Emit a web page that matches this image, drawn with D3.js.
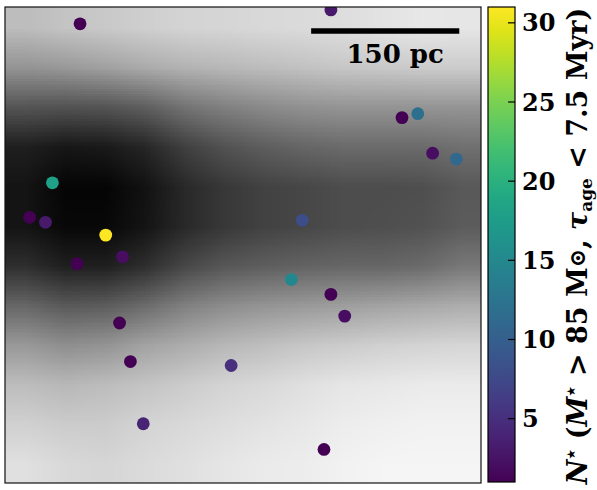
<!DOCTYPE html>
<html>
<head>
<meta charset="utf-8">
<script src="https://cdn.jsdelivr.net/npm/d3@7"></script>
<style>
  body { margin: 0; background: #fff; }
  svg { display: block; }
</style>
</head>
<body>
<div id="chart"></div>
<script>
// cluster positions (pc) and number of massive young stars
var starX = [-165, 89, 161, 177, 192, 216, -193, -216, -200, -139, 60, -168, -122, 49, 89, 103, -125, -114, -12, -101, 82]
var starY = [224, 238, 129, 133, 93, 87, 63, 28, 23, 10, 25, -19, -12, -35, -50, -72, -79, -118, -122, -181, -207]
var starN = [1, 3, 1, 12, 2, 11, 18, 1, 3, 31, 8, 1, 2, 15, 1, 2, 1, 1, 5, 4, 1]

// background gas map, brightness 0 (dense) .. 1, rows top to bottom
var gasMap = [
  [0.74,0.77,0.79,0.81,0.83,0.84,0.85,0.86,0.87,0.89,0.91,0.90],
  [0.58,0.60,0.63,0.67,0.70,0.72,0.74,0.76,0.78,0.79,0.80,0.80],
  [0.33,0.32,0.33,0.37,0.45,0.50,0.54,0.57,0.58,0.58,0.58,0.58],
  [0.12,0.09,0.10,0.15,0.25,0.32,0.37,0.40,0.42,0.42,0.42,0.44],
  [0.08,0.02,0.02,0.07,0.16,0.22,0.26,0.28,0.30,0.30,0.31,0.35],
  [0.08,0.03,0.03,0.08,0.16,0.22,0.26,0.28,0.30,0.31,0.32,0.36],
  [0.18,0.12,0.12,0.18,0.28,0.34,0.37,0.39,0.40,0.40,0.42,0.47],
  [0.40,0.35,0.36,0.42,0.50,0.55,0.58,0.60,0.62,0.64,0.66,0.68],
  [0.60,0.56,0.58,0.64,0.68,0.72,0.75,0.78,0.80,0.82,0.83,0.84],
  [0.74,0.72,0.74,0.77,0.80,0.83,0.85,0.88,0.90,0.91,0.92,0.92],
  [0.82,0.80,0.80,0.83,0.85,0.87,0.89,0.91,0.93,0.94,0.95,0.95],
  [0.88,0.85,0.84,0.86,0.88,0.90,0.92,0.93,0.95,0.96,0.96,0.96]
]

var cbarTicks = [5, 10, 15, 20, 25, 30]
var scaleBarPc = 150

var W = 597, H = 490
var plot = {left: 5, top: 7, size: 476}
var cbar = {left: 488, width: 27}
var serif = "DejaVu Serif"

var svg = d3.select("#chart").append("svg")
  .attr("width", W)
  .attr("height", H)

var x = d3.scaleLinear().domain([-241, 241]).range([plot.left, plot.left + plot.size])
var y = d3.scaleLinear().domain([-241, 241]).range([plot.top + plot.size, plot.top])
var gray = d3.scaleLinear().domain([0, 1]).range(["#000", "#fff"])
var color = d3.scaleSequential(d3.interpolateViridis).domain([1, 31])

// gas map drawn on a tiny canvas, then stretched (smoothed) over the plot
var nr = gasMap.length, nc = gasMap[0].length
var cv = document.createElement("canvas")
cv.width = nc
cv.height = nr
var ctx = cv.getContext("2d")
gasMap.forEach(function(row, j) {
  row.forEach(function(v, i) {
    ctx.fillStyle = gray(v)
    ctx.fillRect(i, j, 1, 1)
  })
})

svg.append("clipPath").attr("id", "clip")
  .append("rect")
    .attr("x", x(-241)).attr("y", y(241))
    .attr("width", x(241) - x(-241)).attr("height", y(-241) - y(241))

var g = svg.append("g").attr("clip-path", "url(#clip)")

g.append("image")
  .attr("href", cv.toDataURL())
  .attr("x", x(-241)).attr("y", y(241))
  .attr("width", x(241) - x(-241))
  .attr("height", y(-241) - y(241))
  .attr("preserveAspectRatio", "none")
  .style("image-rendering", "auto")

g.selectAll("circle")
  .data(starN)
  .enter()
  .append("circle")
    .attr("cx", function(d, i) { return x(starX[i]) })
    .attr("cy", function(d, i) { return y(starY[i]) })
    .attr("r", 6.4)
    .attr("fill", function(d) { return color(d) })

// frame
svg.append("rect")
  .attr("x", x(-241)).attr("y", y(241))
  .attr("width", x(241) - x(-241)).attr("height", y(-241) - y(241))
  .attr("fill", "none")
  .attr("stroke", "#111")
  .attr("stroke-width", 1.2)

// scale bar
var sb0 = 69, sb1 = sb0 + scaleBarPc
svg.append("line")
  .attr("x1", x(sb0)).attr("x2", x(sb1))
  .attr("y1", 31).attr("y2", 31)
  .attr("stroke", "#000")
  .attr("stroke-width", 5.5)
svg.append("text")
  .attr("x", (x(sb0) + x(sb1)) / 2 + 10)
  .attr("y", 63)
  .attr("text-anchor", "middle")
  .style("font-family", serif)
  .style("font-weight", "bold")
  .style("font-size", "26px")
  .text(scaleBarPc + " pc")

// colorbar
var cy = d3.scaleLinear().domain([1, 31]).range([plot.top + plot.size - 1, plot.top])
var grad = svg.append("defs").append("linearGradient")
  .attr("id", "vir")
  .attr("x1", 0).attr("y1", 1).attr("x2", 0).attr("y2", 0)
d3.range(0, 1.0001, 0.05).forEach(function(t) {
  grad.append("stop").attr("offset", t).attr("stop-color", d3.interpolateViridis(t))
})
svg.append("rect")
  .attr("x", cbar.left).attr("y", cy(31))
  .attr("width", cbar.width).attr("height", cy(1) - cy(31))
  .attr("fill", "url(#vir)")
  .attr("stroke", "#000")
  .attr("stroke-width", 1.2)

var ticks = svg.append("g")
ticks.selectAll("line")
  .data(cbarTicks)
  .enter()
  .append("line")
    .attr("x1", cbar.left + cbar.width - 7)
    .attr("x2", cbar.left + cbar.width)
    .attr("y1", function(d) { return cy(d) })
    .attr("y2", function(d) { return cy(d) })
    .attr("stroke", "#000")
    .attr("stroke-width", 1.2)
ticks.selectAll("text")
  .data(cbarTicks)
  .enter()
  .append("text")
    .attr("x", cbar.left + cbar.width + 7)
    .attr("y", function(d) { return cy(d) })
    .attr("dy", "0.36em")
    .style("font-family", serif)
    .style("font-weight", "bold")
    .style("font-size", "24px")
    .text(function(d) { return d })

// colorbar label
var lab = svg.append("text")
  .attr("transform", "translate(587,246) rotate(-90)")
  .attr("text-anchor", "middle")
  .style("font-family", serif)
  .style("font-weight", "bold")
  .style("font-size", "27px")
var parts = [
  ["N", "italic", 0, 27], ["⋆", "normal", -10, 18], [" (", "normal", 10, 27],
  ["M", "italic", 0, 27], ["⋆", "normal", -10, 18], [" > 85 M", "normal", 10, 27],
  ["⊙", "normal", -2, 22], [", ", "normal", 2, 27],
  ["τ", "italic", 0, 27], ["age", "normal", 5, 17], [" < 7.5 Myr)", "normal", -5, 27]
]
parts.forEach(function(p) {
  lab.append("tspan")
    .attr("dy", p[2])
    .style("font-style", p[1])
    .style("font-size", p[3] + "px")
    .text(p[0])
})
</script>
</body>
</html>
